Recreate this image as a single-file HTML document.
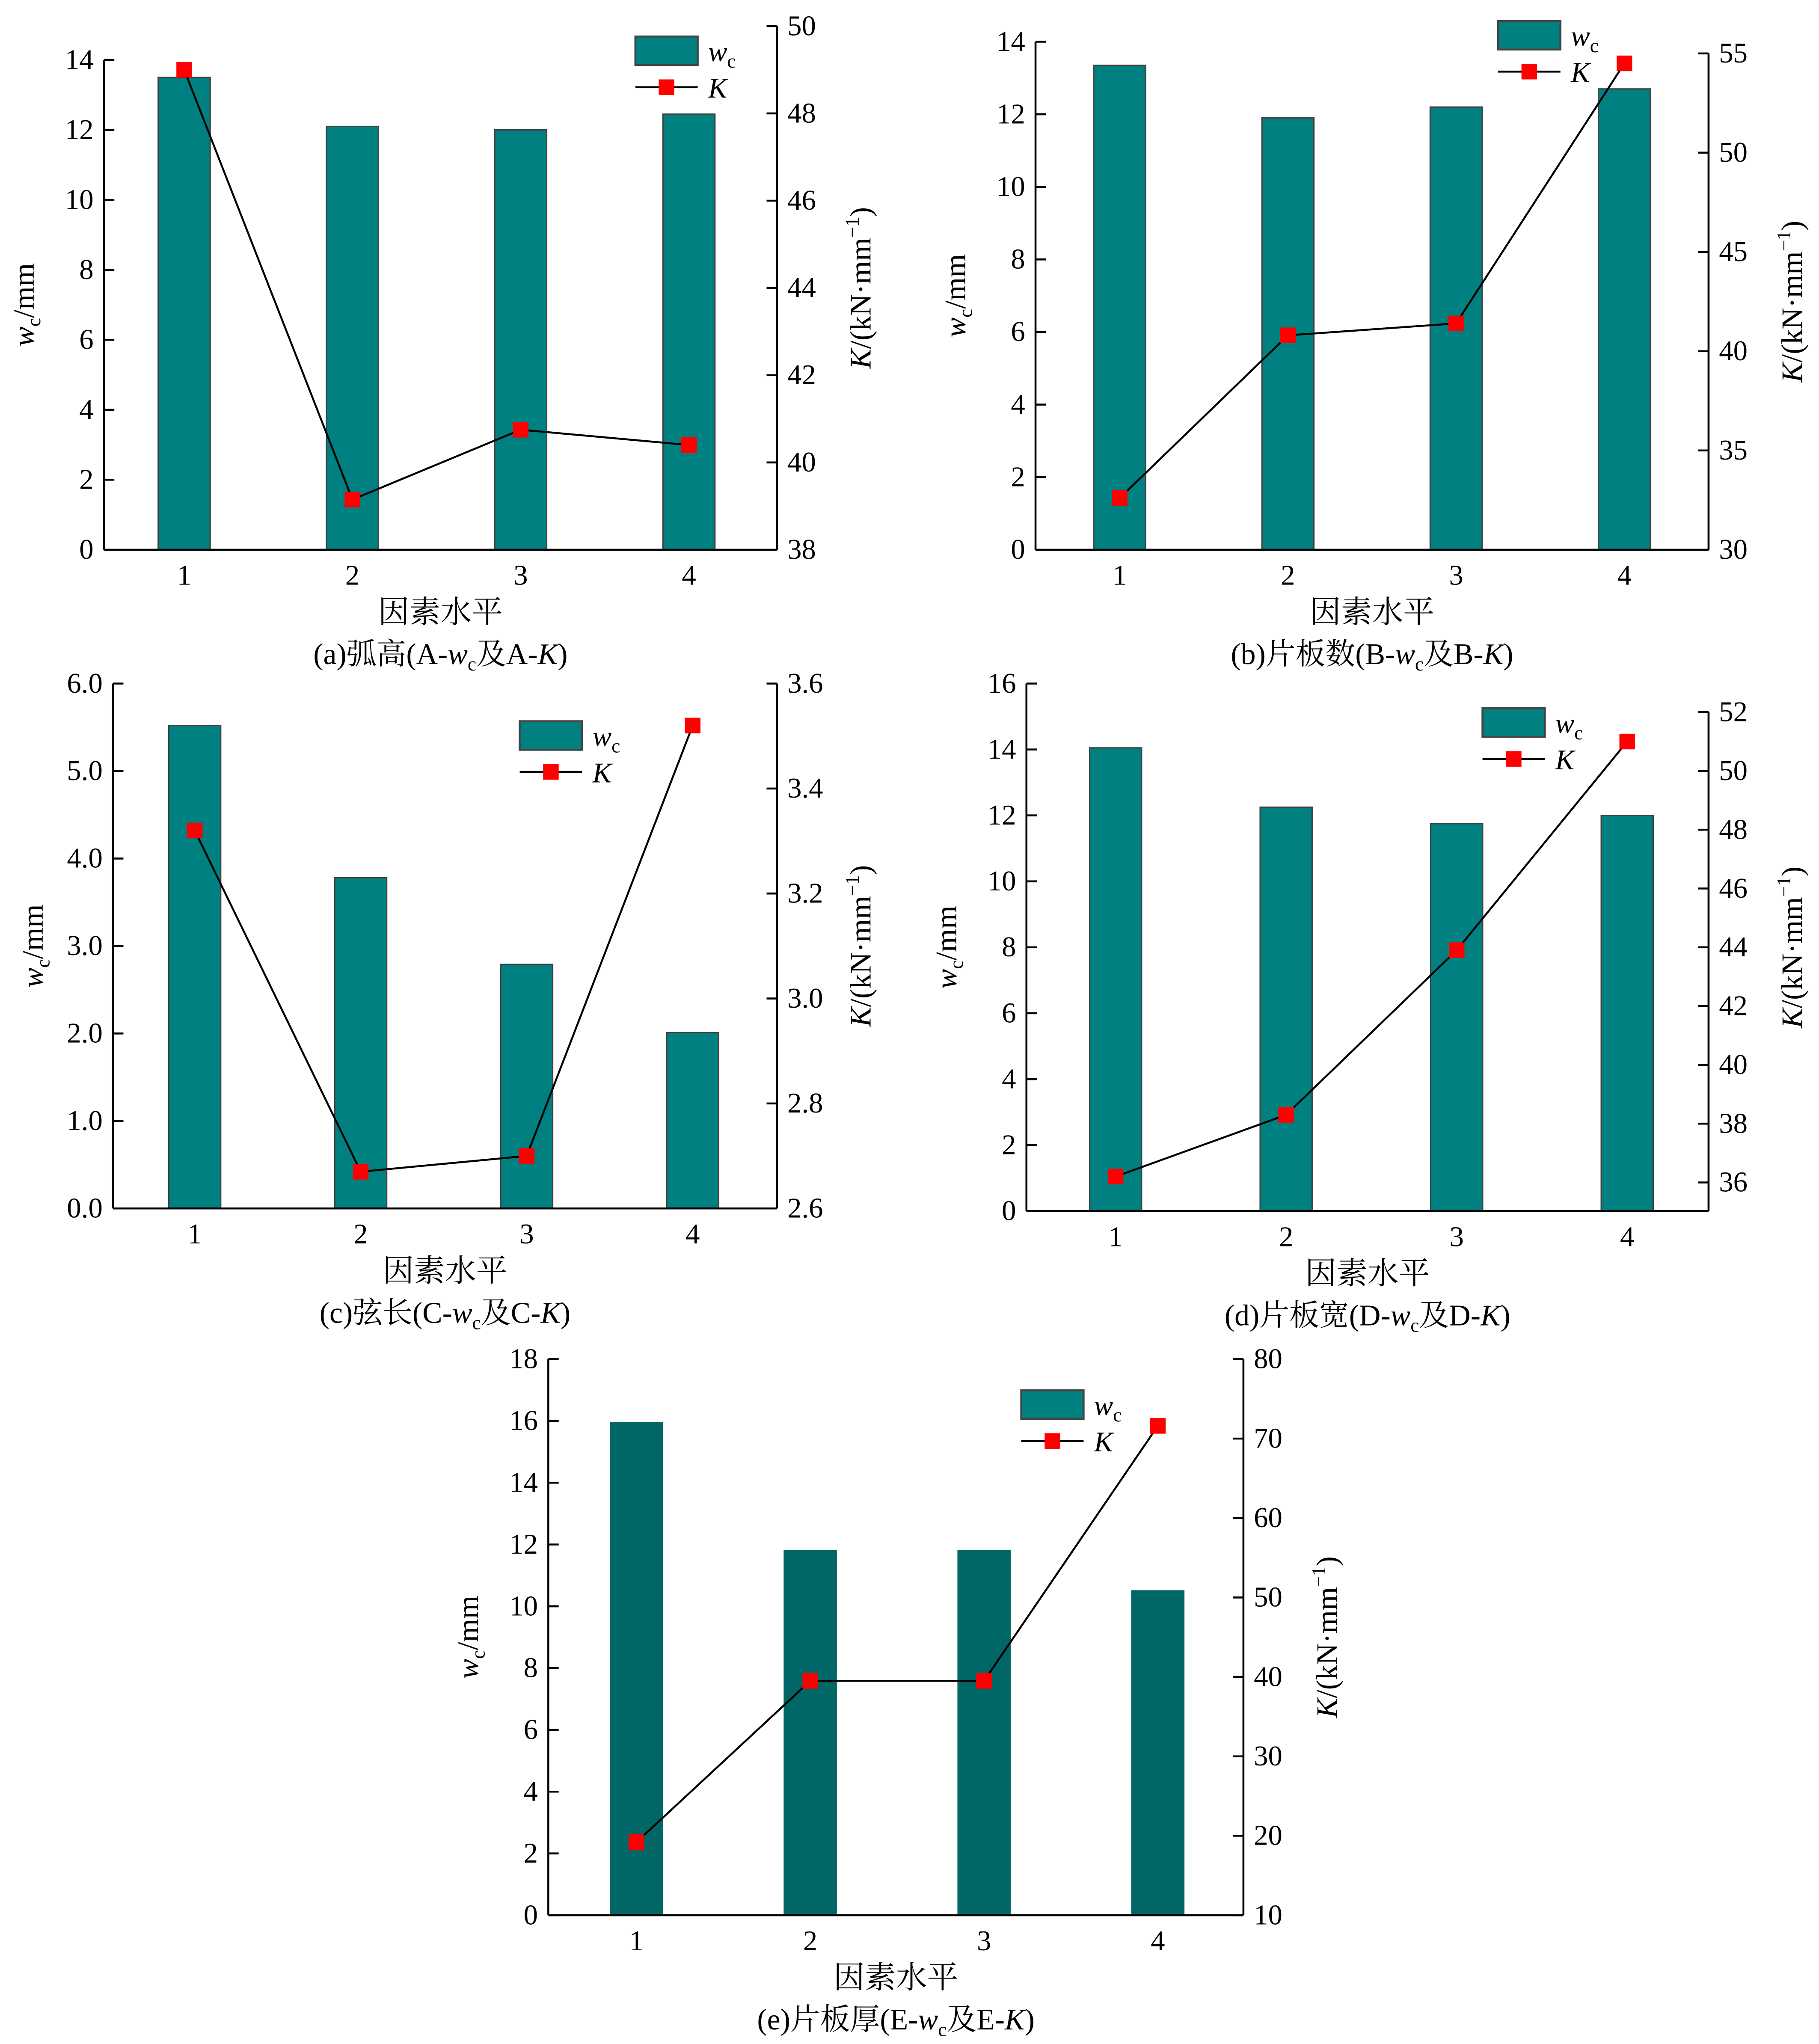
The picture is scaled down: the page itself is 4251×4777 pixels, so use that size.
<!DOCTYPE html>
<html><head><meta charset="utf-8">
<style>
html,body{margin:0;padding:0;background:#fff;}
svg{display:block;}
text{font-family:"Liberation Serif","Noto Serif CJK SC",serif;fill:#000;}
</style></head>
<body>
<svg id="fig" width="4251" height="4777" viewBox="0 0 1400 1573" xmlns="http://www.w3.org/2000/svg"></svg>
<script>
const categories = ["1","2","3","4"];
const wcA = [13.5, 12.1, 12.0, 12.45];
const kA = [49.0, 39.15, 40.75, 40.4];
const wcB = [13.35, 11.9, 12.2, 12.7];
const kB = [32.6, 40.8, 41.4, 54.5];
const wcC = [5.52, 3.78, 2.79, 2.01];
const kC = [3.32, 2.67, 2.70, 3.52];
const wcD = [14.05, 12.25, 11.75, 12.0];
const kD = [36.2, 38.3, 43.9, 51.0];
const wcE = [15.95, 11.8, 11.8, 10.5];
const kE = [19.2, 39.5, 39.5, 71.6];
const ticksLA = ["0","2","4","6","8","10","12","14"];
const ticksRA = ["38","40","42","44","46","48","50"];
const ticksLB = ["0","2","4","6","8","10","12","14"];
const ticksRB = ["30","35","40","45","50","55"];
const ticksLC = ["0.0","1.0","2.0","3.0","4.0","5.0","6.0"];
const ticksRC = ["2.6","2.8","3.0","3.2","3.4","3.6"];
const ticksLD = ["0","2","4","6","8","10","12","14","16"];
const ticksRD = ["36","38","40","42","44","46","48","50","52"];
const ticksLE = ["0","2","4","6","8","10","12","14","16","18"];
const ticksRE = ["10","20","30","40","50","60","70","80"];

const NS="http://www.w3.org/2000/svg";
const svg=document.getElementById('fig');
function mk(tag,attrs,parent){const e=document.createElementNS(NS,tag);for(const k in attrs)e.setAttribute(k,attrs[k]);(parent||svg).appendChild(e);return e;}

function panel(p){
  const g=mk('g',{});
  
  
  const lmin=+p.tl[0], lv1=+p.tl[p.tl.length-1];
  const yL=v=>p.lb-(v-lmin)/(lv1-lmin)*(p.lb-p.lt);
  const rmin=+p.tr[0], rv1=+p.tr[p.tr.length-1];
  const yR=v=>p.rb-(v-rmin)/(rv1-rmin)*(p.rb-p.rt);
  const step=(p.x1-p.x0)/categories.length;
  const xC=i=>p.x0+step*(i+0.5)+p.shift;
  p.wc.forEach((v,i)=>{
    const r=mk('rect',{x:xC(i)-20,y:yL(v),width:40,height:p.lb-yL(v),fill:p.barFill,stroke:p.barStroke,'stroke-width':1},g);
    
    
  });
  mk('line',{x1:p.x0,y1:p.lb,x2:p.x1,y2:p.lb,stroke:'#000','stroke-width':1.5},g);
  mk('line',{x1:p.x0,y1:p.lb,x2:p.x0,y2:p.lt,stroke:'#000','stroke-width':1.5},g);
  mk('line',{x1:p.x1,y1:p.lb,x2:p.x1,y2:p.rt,stroke:'#000','stroke-width':1.5},g);
  p.tl.forEach(t=>{const y=yL(+t);
    mk('line',{x1:p.x0,y1:y,x2:p.x0+8,y2:y,stroke:'#000','stroke-width':1.5},g);
    const tx=mk('text',{x:p.x0-8,y:y+7,'text-anchor':'end','font-size':22},g);tx.textContent=t;
    });
  p.tr.forEach(t=>{const y=yR(+t);
    mk('line',{x1:p.x1,y1:y,x2:p.x1-8,y2:y,stroke:'#000','stroke-width':1.5},g);
    const tx=mk('text',{x:p.x1+8,y:y+7,'text-anchor':'start','font-size':22},g);tx.textContent=t;
    });
  categories.forEach((c,i)=>{
    const tx=mk('text',{x:xC(i),y:p.lb+27,'text-anchor':'middle','font-size':22},g);tx.textContent=c;
    });
  const pts=p.k.map((v,i)=>xC(i)+','+yR(v)).join(' ');
  const pl=mk('polyline',{points:pts,fill:'none',stroke:'#000','stroke-width':1.5},g);
  
  p.k.forEach((v,i)=>{const m=mk('rect',{x:xC(i)-6,y:yR(v)-6,width:12,height:12,fill:'#ff0000'},g);
    });
  const cx=(p.x0+p.x1)/2;
  const xt=mk('text',{x:cx,y:p.lb+56,'text-anchor':'middle','font-size':24},g);xt.textContent='因素水平';
  
  const cap=mk('text',{x:cx,y:p.lb+88,'text-anchor':'middle','font-size':23},g);
  cap.innerHTML=p.cap;
  
  const ymid=(p.lt+p.lb)/2;
  const ly=mk('text',{x:0,y:0,'text-anchor':'middle','font-size':23,transform:`translate(${p.x0-54},${ymid}) rotate(-90)`},g);
  ly.innerHTML='<tspan font-style="italic">w</tspan><tspan font-size="15" dy="5">c</tspan><tspan dy="-5">/mm</tspan>';
  
  const ry=mk('text',{x:0,y:0,'text-anchor':'middle','font-size':23,transform:`translate(${p.x1+72},${(p.rt+p.rb)/2}) rotate(-90)`},g);
  ry.innerHTML='<tspan font-style="italic">K</tspan>/(kN·mm<tspan font-size="15" dy="-9">−1</tspan><tspan dy="9">)</tspan>';
  
  const lg=mk('g',{},g);
  
  mk('rect',{x:p.lx,y:p.ly,width:48,height:22,fill:'#008080',stroke:'#444','stroke-width':1.5},lg);
  const t1=mk('text',{x:p.lx+56,y:p.ly+19,'font-size':22},lg);
  t1.innerHTML='<tspan font-style="italic">w</tspan><tspan font-size="15" dy="5">c</tspan>';
  mk('line',{x1:p.lx,y1:p.ly+39,x2:p.lx+48,y2:p.ly+39,stroke:'#000','stroke-width':1.5},lg);
  mk('rect',{x:p.lx+18,y:p.ly+33,width:12,height:12,fill:'#ff0000'},lg);
  const t2=mk('text',{x:p.lx+56,y:p.ly+47,'font-size':22,'font-style':'italic'},lg);t2.textContent='K';
}
const capT=(L,name)=>`(${L.toLowerCase()})${name}(${L}-<tspan font-style="italic">w</tspan><tspan font-size="15" dy="5">c</tspan><tspan dy="-5">及${L}-</tspan><tspan font-style="italic">K</tspan>)`;
panel({id:'a',x0:80,x1:598,lb:423,lt:46,rb:423,rt:20,shift:-3,wc:wcA,k:kA,tl:ticksLA,tr:ticksRA,barFill:'#008080',barStroke:'#404040',lx:489,ly:28,cap:capT('A','弧高')});
panel({id:'b',x0:797,x1:1315,lb:423,lt:32,rb:423,rt:41,shift:0,wc:wcB,k:kB,tl:ticksLB,tr:ticksRB,barFill:'#008080',barStroke:'#404040',lx:1153,ly:16,cap:capT('B','片板数')});
panel({id:'c',x0:87,x1:598,lb:930,lt:526,rb:930,rt:526,shift:-1,wc:wcC,k:kC,tl:ticksLC,tr:ticksRC,barFill:'#008080',barStroke:'#404040',lx:400,ly:555,cap:capT('C','弦长')});
panel({id:'d',x0:790,x1:1315,lb:932,lt:526,rb:910,rt:548,shift:3,wc:wcD,k:kD,tl:ticksLD,tr:ticksRD,barFill:'#008080',barStroke:'#404040',lx:1141,ly:545,cap:capT('D','片板宽')});
panel({id:'e',x0:422,x1:957,lb:1474,lt:1046,rb:1474,rt:1046,shift:1,wc:wcE,k:kE,tl:ticksLE,tr:ticksRE,barFill:'#006666',barStroke:'#006666',lx:786,ly:1070,cap:capT('E','片板厚')});
</script>
</body></html>
